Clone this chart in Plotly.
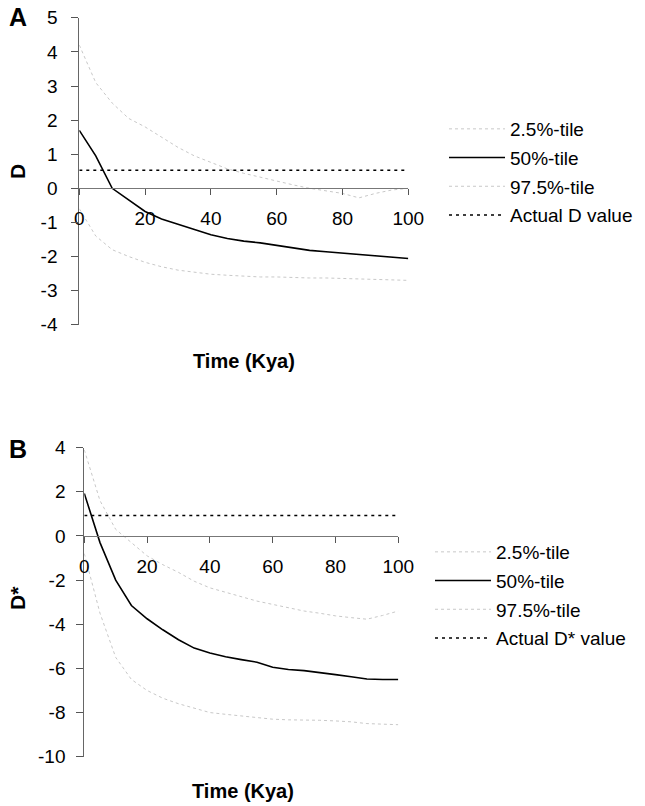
import plotly.graph_objects as go

# Time points (thousand years ago)
time_kya = [0, 5, 10, 15, 20, 25, 30, 35, 40, 45, 50, 55, 60, 65, 70, 75, 80, 85, 90, 95, 100]

# Panel A: Tajima's D percentiles
d_p025 = [-0.6, -1.4, -1.8, -2.0, -2.17, -2.3, -2.4, -2.46, -2.52, -2.55, -2.58, -2.6, -2.6,
          -2.62, -2.63, -2.63, -2.64, -2.66, -2.68, -2.69, -2.7]
d_p50 = [1.7, 0.95, 0.0, -0.35, -0.68, -0.9, -1.05, -1.2, -1.36, -1.47, -1.55, -1.6, -1.67,
         -1.74, -1.82, -1.86, -1.9, -1.94, -1.99, -2.03, -2.06]
d_p975 = [4.2, 3.1, 2.5, 2.05, 1.8, 1.5, 1.2, 0.95, 0.75, 0.57, 0.44, 0.32, 0.2,
          0.1, 0.0, -0.07, -0.15, -0.28, -0.15, -0.05, 0.0]
d_actual = 0.53

# Panel B: Fu and Li's D* percentiles
ds_p025 = [-0.8, -3.5, -5.5, -6.5, -7.0, -7.35, -7.6, -7.8, -8.0, -8.08, -8.15, -8.22, -8.3,
           -8.33, -8.33, -8.35, -8.38, -8.42, -8.5, -8.52, -8.55]
ds_p50 = [1.93, -0.3, -2.0, -3.15, -3.75, -4.25, -4.7, -5.08, -5.3, -5.47, -5.6, -5.72, -5.95,
          -6.05, -6.1, -6.18, -6.28, -6.38, -6.48, -6.5, -6.5]
ds_p975 = [3.9, 1.6, 0.3, -0.3, -0.9, -1.3, -1.65, -2.05, -2.35, -2.55, -2.75, -2.95, -3.1,
           -3.25, -3.4, -3.5, -3.62, -3.7, -3.77, -3.6, -3.4]
ds_actual = 0.93

x_ticks = [0, 20, 40, 60, 80, 100]
ya_ticks = [5, 4, 3, 2, 1, 0, -1, -2, -3, -4]
ya_labels = ["5", "4", "3", "2", "1", "0", "-1", "-2", "-3", "-4"]
yb_ticks = [4, 2, 0, -2, -4, -6, -8, -10]
yb_labels = ["4", "2", "0", "-2", "-4", "-6", "-8", "-10"]

W, H = 645, 806
FONT = "Liberation Sans, Arial, sans-serif"
FAINT = "#c8c8c8"

# Plot-area domains (paper fractions)
xa_dom = [79.3 / W, 408.3 / W]
ya_dom = [1 - 324.7 / H, 1 - 17.8 / H]
ya_rng = [-4, 5]
xb_dom = [84.3 / W, 398.3 / W]
yb_dom = [1 - 756.7 / H, 1 - 447.7 / H]
yb_rng = [-10, 4]


def zero_pos(dom, rng):
    return dom[0] + (0 - rng[0]) / (rng[1] - rng[0]) * (dom[1] - dom[0])


fig = go.Figure()

def add_panel(xa, ya, legend, p025, p50, p975, actual, actual_name):
    fig.add_trace(go.Scatter(x=time_kya, y=p025, mode="lines", name="2.5%-tile",
                             line=dict(color=FAINT, width=1, dash="dot"),
                             xaxis=xa, yaxis=ya, legend=legend, legendgroup=legend + "a"))
    fig.add_trace(go.Scatter(x=time_kya, y=p50, mode="lines", name="50%-tile",
                             line=dict(color="black", width=1.6),
                             xaxis=xa, yaxis=ya, legend=legend, legendgroup=legend + "b"))
    fig.add_trace(go.Scatter(x=time_kya, y=p975, mode="lines", name="97.5%-tile",
                             line=dict(color=FAINT, width=1, dash="dot"),
                             xaxis=xa, yaxis=ya, legend=legend, legendgroup=legend + "c"))
    fig.add_trace(go.Scatter(x=[time_kya[0], time_kya[-1]], y=[actual, actual], mode="lines",
                             name=actual_name,
                             line=dict(color="black", width=1.6, dash="3px,4px"),
                             xaxis=xa, yaxis=ya, legend=legend, legendgroup=legend + "d"))

add_panel("x", "y", "legend", d_p025, d_p50, d_p975, d_actual, "Actual D value")
add_panel("x2", "y2", "legend2", ds_p025, ds_p50, ds_p975, ds_actual, "Actual D* value")

tickfont = dict(family=FONT, size=19, color="black")
xcommon = dict(range=[0, 100], tickvals=x_ticks, showgrid=False, zeroline=False,
               showline=True, linecolor="#777", linewidth=1, ticks="outside", ticklen=6,
               tickcolor="#555", tickfont=tickfont, ticklabelstandoff=7, anchor="free",
               automargin=False)
ycommon = dict(showgrid=False, zeroline=False, showline=True, linecolor="#666", linewidth=1,
               ticks="outside", ticklen=7, tickcolor="#555", tickfont=tickfont,
               automargin=False)

legfont = dict(family=FONT, size=19, color="black")
fig.update_layout(
    width=W, height=H,
    margin=dict(l=0, r=0, t=0, b=0, autoexpand=False),
    paper_bgcolor="white", plot_bgcolor="white",
    font=dict(family=FONT, color="black"),
    xaxis=dict(domain=xa_dom, position=zero_pos(ya_dom, ya_rng), **xcommon),
    yaxis=dict(domain=ya_dom, range=ya_rng, tickvals=ya_ticks, ticktext=ya_labels,
               anchor="x", ticklabelstandoff=10, **ycommon),
    xaxis2=dict(domain=xb_dom, position=zero_pos(yb_dom, yb_rng), **xcommon),
    yaxis2=dict(domain=yb_dom, range=yb_rng, tickvals=yb_ticks, ticktext=yb_labels,
                anchor="x2", ticklabelstandoff=7, **ycommon),
    legend=dict(x=444 / W, y=1 - 110 / H, xanchor="left", yanchor="top",
                font=legfont, bgcolor="rgba(0,0,0,0)", itemwidth=56, tracegroupgap=1),
    legend2=dict(x=430 / W, y=1 - 533 / H, xanchor="left", yanchor="top",
                 font=legfont, bgcolor="rgba(0,0,0,0)", itemwidth=56, tracegroupgap=1),
)

bold = dict(family=FONT, color="black")
annos = [
    dict(text="<b>A</b>", x=18 / W, y=1 - 17 / H, font=dict(size=25, **bold)),
    dict(text="<b>B</b>", x=18 / W, y=1 - 449 / H, font=dict(size=25, **bold)),
    dict(text="<b>D</b>", x=17 / W, y=1 - 172 / H, textangle=-90, font=dict(size=21, **bold)),
    dict(text="<b>D*</b>", x=17 / W, y=1 - 598 / H, textangle=-90, font=dict(size=21, **bold)),
    dict(text="<b>Time (Kya)</b>", x=244 / W, y=1 - 361 / H, font=dict(size=20, **bold)),
    dict(text="<b>Time (Kya)</b>", x=243 / W, y=1 - 791 / H, font=dict(size=20, **bold)),
]
for a in annos:
    fig.add_annotation(xref="paper", yref="paper", showarrow=False,
                       xanchor="center", yanchor="middle", **a)

fig.write_html("out.html")
